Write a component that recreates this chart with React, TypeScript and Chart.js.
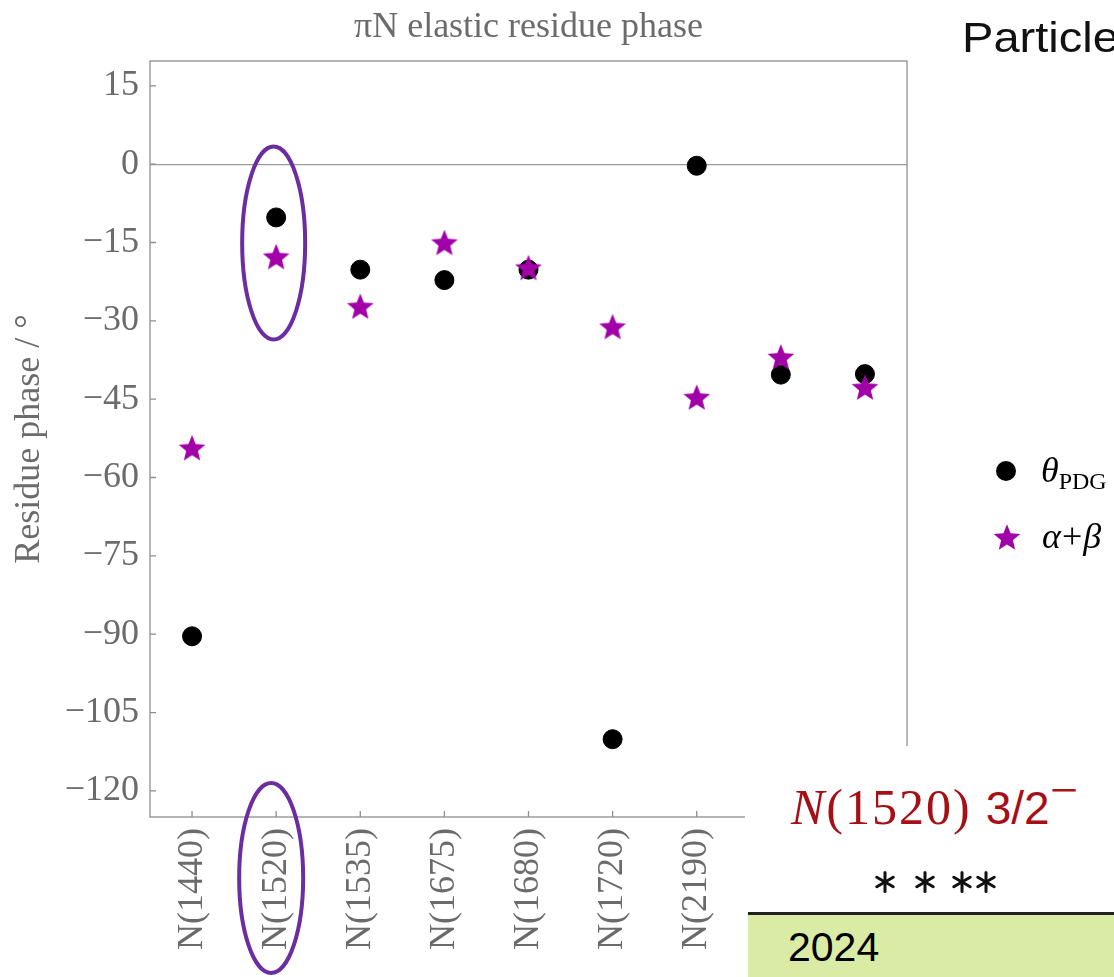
import React, { useEffect, useRef } from 'react';
import { Chart, registerables } from 'chart.js';

Chart.register(...registerables);

// ---- data ----
const categories = ['N(1440)', 'N(1520)', 'N(1535)', 'N(1675)', 'N(1680)', 'N(1720)', 'N(2190)', 'N(2220)', 'N(2250)'];
const thetaPDG = [-90.4, -10.2, -20.2, -22.2, -20.2, -110.1, -0.3, -40.3, -40.2];
const alphaBeta = [-54.3, -17.7, -27.2, -15.0, -19.8, -31.1, -44.6, -36.9, -42.7];
const yTicks = [15, 0, -15, -30, -45, -60, -75, -90, -105, -120];
const yMin = -125;
const yMax = 19.75;
const chartTitle = 'πN elastic residue phase';
const yTitle = 'Residue phase / °';

const SERIF = "'Liberation Serif', 'Times New Roman', Times, serif";
const SANS = "'Liberation Sans', Arial, Helvetica, sans-serif";
const GRAY_TEXT = '#6b6b6b';
const GRAY_LINE = '#8e8e8e';
const MAGENTA = '#a100a8';
const PURPLE = '#6b2d9f';

function fmt(v: number): string {
  return v < 0 ? '\u2212' + Math.abs(v) : String(v);
}

function makeStar(R: number, color: string): HTMLCanvasElement {
  const c = document.createElement('canvas');
  const size = 32;
  c.width = size;
  c.height = size;
  const ctx = c.getContext('2d')!;
  const inner = R * 0.44;
  ctx.translate(size / 2, size / 2 + (R * (1 - Math.cos(Math.PI / 5))) / 2);
  ctx.beginPath();
  for (let i = 0; i < 10; i++) {
    const r = i % 2 === 0 ? R : inner;
    const a = -Math.PI / 2 + (i * Math.PI) / 5;
    const px = r * Math.cos(a);
    const py = r * Math.sin(a);
    if (i === 0) ctx.moveTo(px, py);
    else ctx.lineTo(px, py);
  }
  ctx.closePath();
  ctx.fillStyle = color;
  ctx.fill();
  return c;
}

export default function App() {
  const ref = useRef<HTMLCanvasElement>(null);

  useEffect(() => {
    const canvas = ref.current!;
    const star = makeStar(14, MAGENTA);

    const framePlugin = {
      id: 'frameTicks',
      beforeDatasetsDraw(chart: any) {
        const { ctx, chartArea } = chart;
        const { left, right, top, bottom } = chartArea;
        const xs = chart.scales.x;
        const ys = chart.scales.y;
        ctx.save();
        ctx.strokeStyle = GRAY_LINE;
        ctx.lineWidth = 1.3;
        ctx.strokeRect(left, top, right - left, bottom - top);
        ctx.beginPath();
        ys.ticks.forEach((_t: any, i: number) => {
          const py = ys.getPixelForTick(i);
          ctx.moveTo(left, py);
          ctx.lineTo(left + 6, py);
        });
        xs.ticks.forEach((_t: any, i: number) => {
          const px = xs.getPixelForTick(i);
          ctx.moveTo(px, bottom);
          ctx.lineTo(px, bottom - 6);
        });
        ctx.stroke();
        ctx.restore();
      },
    };

    const decorPlugin = {
      id: 'decor',
      afterDraw(chart: any) {
        const { ctx, chartArea } = chart;
        const xs = chart.scales.x;
        const ys = chart.scales.y;
        ctx.save();
        // highlight ellipses around N(1520)
        const px = xs.getPixelForValue(1);
        ctx.strokeStyle = PURPLE;
        ctx.lineWidth = 4;
        ctx.beginPath();
        ctx.ellipse(px - 2.5, ys.getPixelForValue(-15.1), 31.5, 96.5, 0, 0, Math.PI * 2);
        ctx.stroke();
        ctx.beginPath();
        ctx.ellipse(px - 5, chartArea.bottom + 61, 32, 95, 0, 0, Math.PI * 2);
        ctx.stroke();

        // legend
        ctx.fillStyle = '#000';
        ctx.beginPath();
        ctx.arc(1006, 471, 10, 0, Math.PI * 2);
        ctx.fill();
        ctx.drawImage(star, 1007 - star.width / 2, 537 - star.height / 2);

        ctx.textBaseline = 'alphabetic';
        ctx.textAlign = 'left';
        ctx.font = `italic 36px ${SERIF}`;
        ctx.fillText('θ', 1041, 482);
        const wt = ctx.measureText('θ').width;
        ctx.font = `24px ${SERIF}`;
        ctx.fillText('PDG', 1041 + wt, 489);

        let xx = 1042;
        ctx.font = `italic 36px ${SERIF}`;
        ctx.fillText('α', xx, 548);
        xx += ctx.measureText('α').width + 1;
        ctx.font = `36px ${SERIF}`;
        ctx.fillText('+', xx, 548);
        xx += ctx.measureText('+').width + 1;
        ctx.font = `italic 36px ${SERIF}`;
        ctx.fillText('β', xx, 548);
        ctx.restore();
      },
    };

    const chart = new Chart(canvas, {
      type: 'line',
      data: {
        labels: categories,
        datasets: [
          {
            label: 'θPDG',
            data: thetaPDG,
            showLine: false,
            pointStyle: 'circle',
            pointRadius: 9.5,
            pointBackgroundColor: '#000',
            pointBorderColor: '#000',
            pointBorderWidth: 1,
            order: 2,
          },
          {
            label: 'α+β',
            data: alphaBeta,
            showLine: false,
            pointStyle: star as any,
            pointRadius: 14,
            order: 1,
          },
        ],
      },
      options: {
        responsive: false,
        animation: false,
        events: [],
        layout: { padding: { left: 0, right: 207, top: 0, bottom: 0 } },
        plugins: {
          legend: { display: false },
          tooltip: { enabled: false },
          title: {
            display: true,
            text: chartTitle,
            fullSize: false,
            color: GRAY_TEXT,
            font: { family: SERIF, size: 36, weight: 'normal' },
            padding: { top: 6, bottom: 11.8 },
          },
        },
        scales: {
          x: {
            type: 'category',
            offset: true,
            grid: { display: false, drawTicks: false },
            border: { display: false },
            ticks: {
              autoSkip: false,
              minRotation: 90,
              maxRotation: 90,
              padding: 11,
              color: GRAY_TEXT,
              font: { family: SERIF, size: 36 },
            },
            afterFit: (s: any) => {
              s.height = 160;
            },
          },
          y: {
            type: 'linear',
            min: yMin,
            max: yMax,
            border: { display: false },
            grid: {
              drawTicks: false,
              lineWidth: 1.3,
              color: (c: any) => (c.tick && c.tick.value === 0 ? '#9a9a9a' : 'rgba(0,0,0,0)'),
            },
            afterBuildTicks: (s: any) => {
              s.ticks = yTicks.map((v) => ({ value: v }));
            },
            ticks: {
              padding: 11,
              color: GRAY_TEXT,
              font: { family: SERIF, size: 36 },
              callback: (v: any) => fmt(Number(v)),
            },
            title: {
              display: true,
              text: yTitle,
              color: GRAY_TEXT,
              font: { family: SERIF, size: 36 },
              padding: { top: 8, bottom: 0 },
            },
            afterFit: (s: any) => {
              s.width = 150;
            },
          },
        },
      } as any,
      plugins: [framePlugin, decorPlugin],
    });
    return () => chart.destroy();
  }, []);

  const asteriskCenters = [885, 925, 962, 986];

  return (
    <div style={{ position: 'absolute', left: 0, top: 0, width: 1114, height: 977, background: '#fff', overflow: 'hidden' }}>
      <canvas ref={ref} width={1114} height={977} style={{ position: 'absolute', left: 0, top: 0, width: 1114, height: 977 }} />
      <div
        style={{
          position: 'absolute',
          left: 962,
          top: 17,
          fontFamily: SANS,
          fontSize: 42,
          lineHeight: 1,
          color: '#111',
          whiteSpace: 'nowrap',
          transform: 'scaleX(1.12)',
          transformOrigin: 'left top',
        }}
      >
        Particle
      </div>
      <div style={{ position: 'absolute', left: 745, top: 746, width: 369, height: 231, background: '#fff' }}>
        <div
          style={{
            position: 'absolute',
            left: 46,
            top: 36,
            lineHeight: 1,
            fontSize: 50,
            fontFamily: SERIF,
            color: '#a50f15',
            whiteSpace: 'nowrap',
          }}
        >
          <span style={{ fontStyle: 'italic', letterSpacing: 2 }}>N</span>
          <span style={{ letterSpacing: 2 }}>(1520)</span>
          <span style={{ fontFamily: SANS, fontSize: 46, marginLeft: 14 }}>3/2</span>
          <span style={{ position: 'relative', top: -17 }}>{'\u2212'}</span>
        </div>
        <svg style={{ position: 'absolute', left: 0, top: 0 }} width={369} height={231}>
          {asteriskCenters.map((cx, i) => (
            <g key={i} stroke="#111" strokeWidth={3} strokeLinecap="round">
              {[90, 30, 150].map((a) => {
                const r = 9.5;
                const dx = r * Math.cos((a * Math.PI) / 180);
                const dy = r * Math.sin((a * Math.PI) / 180);
                const c0 = cx - 745;
                const c1 = 882 - 746;
                return <line key={a} x1={c0 - dx} y1={c1 - dy} x2={c0 + dx} y2={c1 + dy} />;
              })}
            </g>
          ))}
        </svg>
        <div style={{ position: 'absolute', left: 3, top: 166, right: 0, height: 3, background: '#222' }} />
        <div style={{ position: 'absolute', left: 3, top: 169, right: 0, bottom: 0, background: '#d9eba5' }}>
          <div style={{ position: 'absolute', left: 40, top: 12, fontFamily: SANS, fontSize: 41, lineHeight: 1, color: '#000' }}>
            2024
          </div>
        </div>
      </div>
    </div>
  );
}
